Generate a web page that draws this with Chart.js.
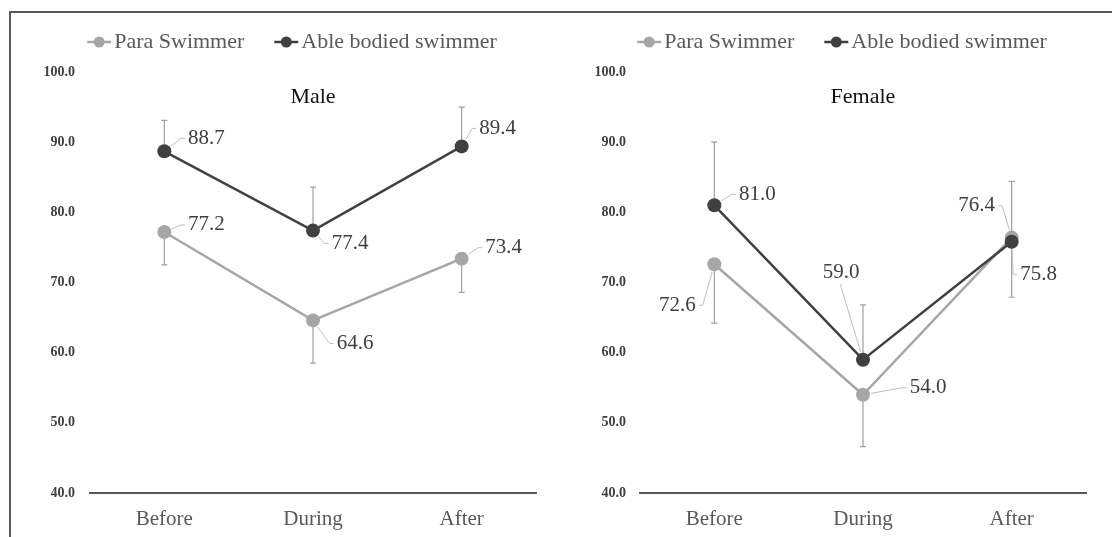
<!DOCTYPE html>
<html>
<head>
<meta charset="utf-8">
<script src="https://cdn.jsdelivr.net/npm/chart.js@4.4.0/dist/chart.umd.min.js"></script>
<style>
  body { margin: 0; background: #fff; width: 1112px; height: 537px; overflow: hidden; position: relative; }
  #frame { position: absolute; left: 9px; top: 11px; width: 1200px; height: 600px; border-top: 2px solid #5a5a5a; border-left: 2px solid #5a5a5a; }
  #maleChart { position: absolute; left: 12px; top: 14px; }
  #femaleChart { position: absolute; left: 584px; top: 14px; }
</style>
</head>
<body>
<div id="frame"></div>
<canvas id="maleChart" width="560" height="523"></canvas>
<canvas id="femaleChart" width="516" height="523"></canvas>
<script>
// categories and axis ticks
const phases = ['Before', 'During', 'After'];
const yTicks = [40, 50, 60, 70, 80, 90, 100];
const seriesNames = ['Para Swimmer', 'Able bodied swimmer'];

// Male means and SD
const malePara = [77.2, 64.6, 73.4];
const maleAble = [88.7, 77.4, 89.4];
const maleParaSD = [4.7, 6.1, 4.8];
const maleAbleSD = [4.4, 6.2, 5.6];

// Female means and SD
const femalePara = [72.6, 54.0, 76.4];
const femaleAble = [81.0, 59.0, 75.8];
const femaleParaSD = [8.4, 7.4, 8.5];
const femaleAbleSD = [9.0, 7.8, 8.6];

// where each value label sits relative to its point: [dx, dy, leader side]
const maleParaLabelPos = [[42, -7, 'l'], [42, 23, 'l'], [42, -11, 'l']];
const maleAbleLabelPos = [[42, -13, 'l'], [37, 13, 'l'], [36, -18, 'l']];
const femaleParaLabelPos = [[-37, 41, 'r'], [65, -7, 'l'], [-35, -32, 'r']];
const femaleAbleLabelPos = [[43, -11, 'l'], [-22, -87, 'b'], [27, 33, 'l']];

const serif = "'Liberation Serif', 'Times New Roman', serif";
const paraColor = '#a6a6a6';
const ableColor = '#404040';

// leader line from label to point
function drawLeader(ctx, px, py, lx, ly, w, side, r) {
    let ax, ay, sx, sy;
    if (side === 'l') { ax = lx - w / 2 - 3; ay = ly; sx = ax - 4; sy = ay; }
    else if (side === 'r') { ax = lx + w / 2 + 3; ay = ly; sx = ax + 4; sy = ay; }
    else { ax = lx; ay = ly + 11; sx = ax; sy = ay + 3; }
    const ang = Math.atan2(sy - py, sx - px);
    const ex = px + Math.cos(ang) * (r + 1);
    const ey = py + Math.sin(ang) * (r + 1);
    ctx.beginPath();
    ctx.moveTo(ax, ay);
    ctx.lineTo(sx, sy);
    ctx.lineTo(ex, ey);
    ctx.stroke();
}

// error bars, value labels, title and legend
const extrasPlugin = {
    id: 'extras',
    beforeDatasetsDraw(chart) {
        const ctx = chart.ctx;
        const yScale = chart.scales.y;
        ctx.save();
        ctx.strokeStyle = '#a0a0a0';
        ctx.lineWidth = 1.2;
        chart.data.datasets.forEach((ds, i) => {
            const meta = chart.getDatasetMeta(i);
            meta.data.forEach((pt, j) => {
                const yEnd = yScale.getPixelForValue(ds.data[j] + ds.sdDir * ds.sd[j]);
                ctx.beginPath();
                ctx.moveTo(pt.x, pt.y);
                ctx.lineTo(pt.x, yEnd);
                ctx.moveTo(pt.x - 3, yEnd);
                ctx.lineTo(pt.x + 3, yEnd);
                ctx.stroke();
            });
        });
        ctx.restore();
    },
    afterDatasetsDraw(chart, args, opts) {
        const ctx = chart.ctx;
        const area = chart.chartArea;
        ctx.save();
        // value labels
        ctx.font = '21px ' + serif;
        ctx.textAlign = 'center';
        ctx.textBaseline = 'middle';
        chart.data.datasets.forEach((ds, i) => {
            const meta = chart.getDatasetMeta(i);
            meta.data.forEach((pt, j) => {
                const [dx, dy, side] = ds.labelPos[j];
                const text = ds.data[j].toFixed(1);
                const w = ctx.measureText(text).width;
                const lx = pt.x + dx, ly = pt.y + dy;
                ctx.strokeStyle = '#c0c0c0';
                ctx.lineWidth = 1;
                drawLeader(ctx, pt.x, pt.y, lx, ly, w, side, 7);
                ctx.fillStyle = '#404040';
                ctx.fillText(text, lx, ly);
            });
        });
        // title inside plot area
        ctx.font = '22px ' + serif;
        ctx.fillStyle = '#111';
        ctx.fillText(opts.title, (area.left + area.right) / 2, 83);

        // legend
        ctx.font = '22px ' + serif;
        ctx.textAlign = 'left';
        const markW = 24, gapText = 3, gapItem = 30;
        const items = chart.data.datasets.map(ds => ({ text: ds.label, color: ds.borderColor, w: ctx.measureText(ds.label).width }));
        const total = items.reduce((s, it) => s + markW + gapText + it.w, 0) + gapItem * (items.length - 1);
        let x = chart.width / 2 - total / 2;
        const y = 28;
        items.forEach(it => {
            ctx.strokeStyle = it.color;
            ctx.lineWidth = 2.5;
            ctx.beginPath();
            ctx.moveTo(x, y);
            ctx.lineTo(x + markW, y);
            ctx.stroke();
            ctx.fillStyle = it.color;
            ctx.beginPath();
            ctx.arc(x + markW / 2, y, 5.5, 0, Math.PI * 2);
            ctx.fill();
            ctx.fillStyle = '#595959';
            ctx.fillText(it.text, x + markW + gapText, y);
            x += markW + gapText + it.w + gapItem;
        });
        ctx.restore();
    }
};

function makeChart(canvasId, title, para, able, paraSD, ableSD, paraPos, ablePos, yWidth, tickPad, padRight) {
    return new Chart(document.getElementById(canvasId), {
        type: 'line',
        data: {
            labels: phases,
            datasets: [
                {
                    label: seriesNames[0],
                    data: para,
                    sd: paraSD,
                    sdDir: -1,
                    labelPos: paraPos,
                    borderColor: paraColor,
                    backgroundColor: paraColor,
                    pointBackgroundColor: paraColor,
                    borderWidth: 2.5,
                    pointRadius: 7,
                    pointHoverRadius: 7,
                    pointBorderWidth: 0,
                    tension: 0,
                    order: 1
                },
                {
                    label: seriesNames[1],
                    data: able,
                    sd: ableSD,
                    sdDir: 1,
                    labelPos: ablePos,
                    borderColor: ableColor,
                    backgroundColor: ableColor,
                    pointBackgroundColor: ableColor,
                    borderWidth: 2.5,
                    pointRadius: 7,
                    pointHoverRadius: 7,
                    pointBorderWidth: 0,
                    tension: 0,
                    order: 0
                }
            ]
        },
        options: {
            responsive: false,
            animation: false,
            events: [],
            layout: { padding: { top: 58, right: padRight, left: 0, bottom: 0 } },
            plugins: {
                legend: { display: false },
                tooltip: { enabled: false },
                extras: { title: title }
            },
            scales: {
                x: {
                    offset: true,
                    grid: { display: false, drawTicks: false },
                    border: { display: true, color: '#595959', width: 2 },
                    ticks: { padding: 14, color: '#595959', font: { family: serif, size: 21 } },
                    afterFit: s => { s.height = 44; }
                },
                y: {
                    min: 40,
                    max: 100,
                    afterBuildTicks: s => { s.ticks = yTicks.map(v => ({ value: v })); },
                    grid: { display: false, drawTicks: false },
                    border: { display: false },
                    ticks: {
                        padding: tickPad,
                        color: '#404040',
                        font: { family: serif, size: 14, weight: 'bold' },
                        callback: v => v.toFixed(1)
                    },
                    afterFit: s => { s.width = yWidth; }
                }
            }
        },
        plugins: [extrasPlugin]
    });
}

makeChart('maleChart', 'Male', malePara, maleAble, maleParaSD, maleAbleSD, maleParaLabelPos, maleAbleLabelPos, 78, 15, 36);
makeChart('femaleChart', 'Female', femalePara, femaleAble, femaleParaSD, femaleAbleSD, femaleParaLabelPos, femaleAbleLabelPos, 56, 14, 14);
</script>
</body>
</html>
